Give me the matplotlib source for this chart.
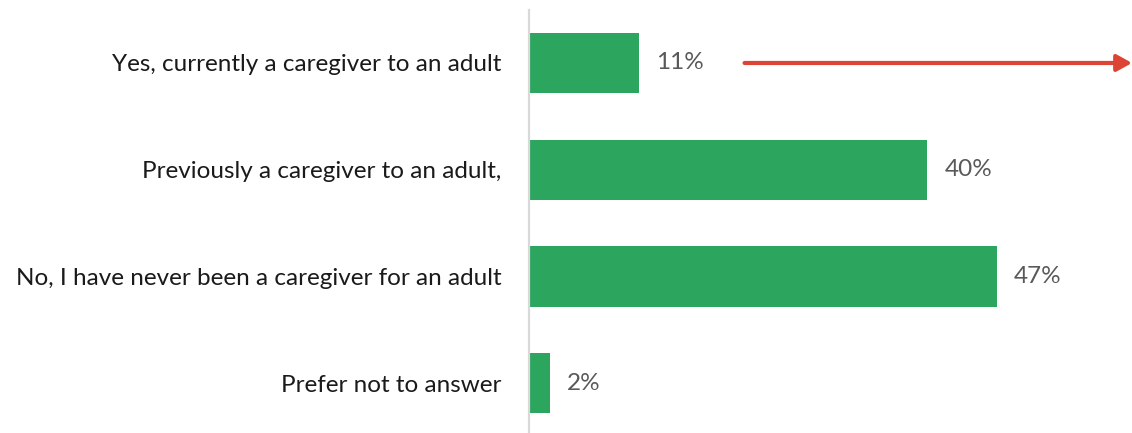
import matplotlib.pyplot as plt

categories = [
    "Yes, currently a caregiver to an adult",
    "Previously a caregiver to an adult,",
    "No, I have never been a caregiver for an adult",
    "Prefer not to answer",
]
values = [11, 40, 47, 2]
value_labels = ["11%", "40%", "47%", "2%"]

plt.rcParams["font.family"] = ["Lato", "DejaVu Sans"]

fig = plt.figure(figsize=(11.32, 4.33), dpi=100)
ax = fig.add_axes([529 / 1132, -3.6 / 433, 1 - 529 / 1132, 427 / 433])

ypos = list(range(len(categories)))
ax.barh(ypos, values, height=0.565, color="#2CA55E", left=0.1)
ax.set_ylim(3.5, -0.5)
ax.set_xlim(0, 60.7)

for y, v, lab in zip(ypos, values, value_labels):
    ax.text(v + 1.8, y, lab, va="center", ha="left", fontsize=17.5, color="#595959")

ax.set_yticks(ypos)
ax.set_yticklabels(categories, fontsize=17.5, color="#1a1a1a")
ax.tick_params(axis="y", length=0, pad=20)
ax.set_xticks([])
for s in ["top", "right", "bottom"]:
    ax.spines[s].set_visible(False)
ax.spines["left"].set_color("#D9D9D9")
ax.spines["left"].set_linewidth(1.6)

# red arrow to the right of the first bar
ax.annotate("", xy=(60.7, 0), xytext=(21.7, 0),
            arrowprops=dict(arrowstyle="-|>,head_length=0.9,head_width=0.5",
                            color="#DC4535", lw=3, shrinkA=0, shrinkB=0),
            annotation_clip=False)

fig.savefig("out.png", dpi=100)
